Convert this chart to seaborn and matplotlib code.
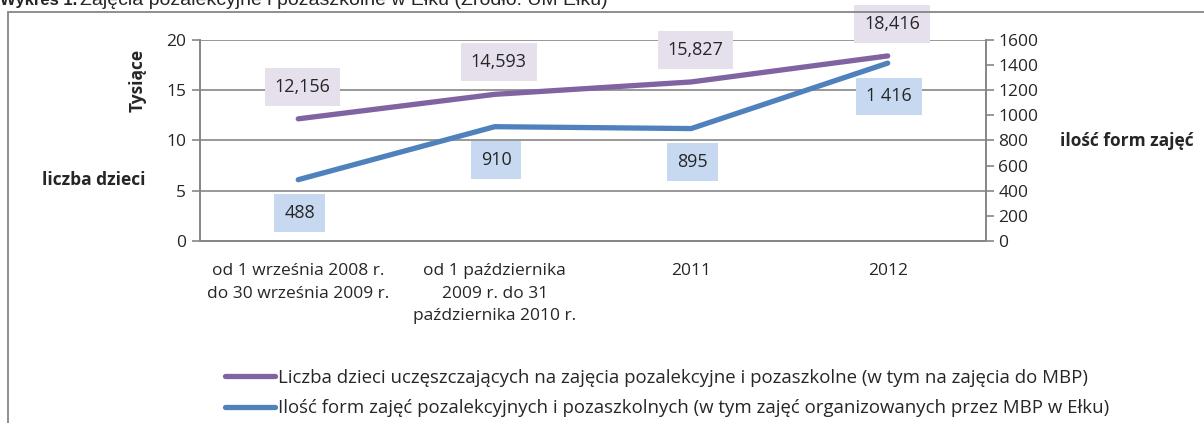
import numpy as np
import pandas as pd
import matplotlib
matplotlib.use("Agg")
import matplotlib.pyplot as plt
from matplotlib.patches import Rectangle
from matplotlib.ticker import MultipleLocator, FixedLocator
import seaborn as sns

# data
categories = [
    "od 1 września 2008 r.\ndo 30 września 2009 r.",
    "od 1 października\n2009 r. do 31\npaździernika 2010 r.",
    "2011",
    "2012",
]
dzieci_tys = [12.156, 14.593, 15.827, 18.416]
dzieci_labels = ["12,156", "14,593", "15,827", "18,416"]
formy = [488, 910, 895, 1416]
formy_labels = ["488", "910", "895", "1 416"]

name_dzieci = "Liczba dzieci uczęszczających na zajęcia pozalekcyjne i pozaszkolne (w tym na zajęcia do MBP)"
name_formy = "Ilość form zajęć pozalekcyjnych i pozaszkolnych (w tym zajęć organizowanych przez MBP w Ełku)"

purple = "#8064A2"
blue = "#4F81BD"
grid_gray = "#868686"
FS = 12.5

sns.set_style("white")
plt.rcParams['font.family'] = ['Open Sans', 'DejaVu Sans']

df = pd.DataFrame({"pos": range(len(categories)), "dzieci": dzieci_tys, "formy": formy})

fig = plt.figure(figsize=(12.04, 4.23), dpi=100)
ax = fig.add_axes([0.1661, 0.4303, 0.8189 - 0.1661, 0.9054 - 0.4303])
ax2 = ax.twinx()

sns.lineplot(data=df, x="pos", y="dzieci", ax=ax, color=purple, linewidth=3.8,
             label=name_dzieci, solid_capstyle="round", solid_joinstyle="round")
sns.lineplot(data=df, x="pos", y="formy", ax=ax2, color=blue, linewidth=3.8,
             label=name_formy, solid_capstyle="round", solid_joinstyle="round")
for a in (ax, ax2):
    if a.get_legend() is not None:
        a.get_legend().remove()

ax.set_xlim(-0.5, len(categories) - 0.5)
ax.set_ylim(0, 20)
ax2.set_ylim(0, 1600)
ax.yaxis.set_major_locator(MultipleLocator(5))
ax2.yaxis.set_major_locator(MultipleLocator(200))

ax.set_xticks(range(len(categories)))
ax.set_xticklabels(categories, fontsize=FS, linespacing=1.55)
ax.xaxis.set_minor_locator(FixedLocator(np.arange(-0.5, len(categories), 1.0)))
ax.tick_params(axis="x", which="major", length=0, pad=16)
ax.tick_params(axis="x", which="minor", length=6, width=1.2, color=grid_gray, direction="out")
ax.tick_params(axis="y", length=6, width=1.2, color=grid_gray, direction="out", labelsize=FS, pad=4)
ax2.tick_params(axis="y", length=6, width=1.2, color=grid_gray, direction="out", labelsize=FS, pad=3)

ax.grid(axis="y", color=grid_gray, linewidth=1.2)
ax.set_axisbelow(True)
ax.set_xlabel("")
ax.set_ylabel("")
ax2.set_ylabel("")

for a in (ax, ax2):
    a.spines["top"].set_visible(False)
    for s in ("left", "right", "bottom"):
        a.spines[s].set_color(grid_gray)
        a.spines[s].set_linewidth(1.2)

# data labels
for x, y, t in zip(df["pos"], dzieci_tys, dzieci_labels):
    ax.annotate(t, (x, y), xytext=(3, 23), textcoords="offset points",
                ha="center", va="center", fontsize=13,
                bbox=dict(boxstyle="square,pad=0.55", fc="#E6E0EC", ec="none"))
for x, y, t in zip(df["pos"], formy, formy_labels):
    ax2.annotate(t, (x, y), xytext=(1, -24), textcoords="offset points",
                 ha="center", va="center", fontsize=13,
                 bbox=dict(boxstyle="square,pad=0.55", fc="#C6D9F1", ec="none"))

# axis titles placed like the original
fig.text(138 / 1204, 1 - 80 / 423, "Tysiące", rotation=90, ha="center", va="center",
         fontsize=FS, fontweight="bold")
fig.text(42 / 1204, 1 - 180 / 423, "liczba dzieci", ha="left", va="center",
         fontsize=FS, fontweight="bold")
fig.text(1060 / 1204, 1 - 141 / 423, "ilość form zajęć", ha="left", va="center",
         fontsize=FS, fontweight="bold")

# legend at the bottom
handles = ax.get_lines()[:1] + ax2.get_lines()[:1]
fig.legend(handles, [name_dzieci, name_formy], loc="upper left",
           bbox_to_anchor=(225 / 1204, 1 - 369 / 423), frameon=False, fontsize=13.4,
           handlelength=2.7, handletextpad=0.15, labelspacing=0.65,
           borderpad=0, borderaxespad=0)

# outer chart frame (cut off by the page edge)
fig.add_artist(Rectangle((8 / 1204, -0.1), 1.2, 1.1 - 12 / 423,
                         transform=fig.transFigure, fill=False,
                         ec=grid_gray, lw=1.3))

# caption, only its lower half visible in the crop
fig.text(0.0, 1 - 5 / 423, "Wykres 1.", ha="left", va="baseline",
         fontsize=12, fontweight="bold", family=["Liberation Sans", "DejaVu Sans"])
fig.text(80 / 1204, 1 - 5 / 423, "Zajęcia pozalekcyjne i pozaszkolne w Ełku (Źródło: UM Ełku)",
         ha="left", va="baseline", fontsize=14, family=["Liberation Sans", "DejaVu Sans"])

fig.savefig("out.png", dpi=100)
